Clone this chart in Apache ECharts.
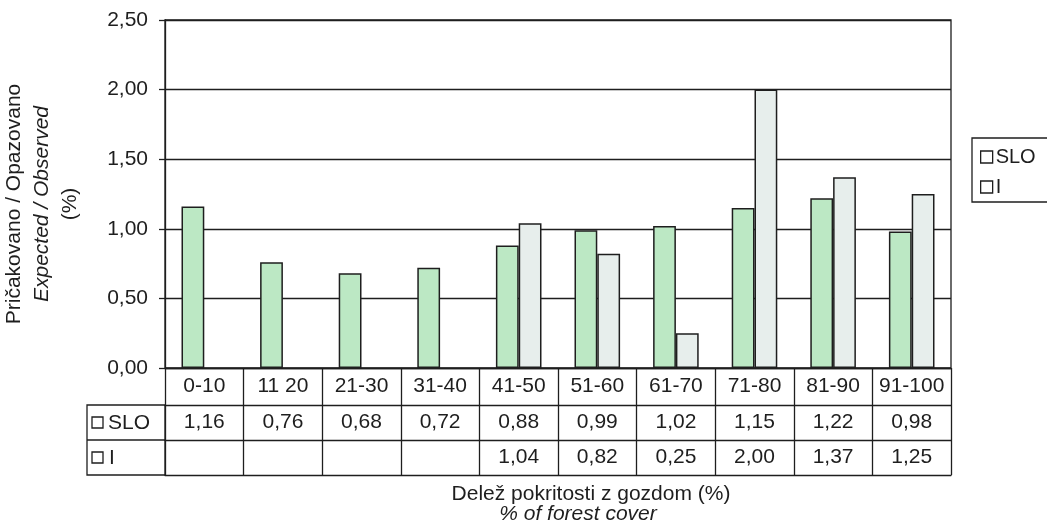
<!DOCTYPE html>
<html><head><meta charset="utf-8">
<script src="https://cdn.jsdelivr.net/npm/echarts@6/dist/echarts.min.js"></script>
<style>html,body{margin:0;padding:0;background:#fff}#c{width:1047px;height:527px}</style>
</head><body><div id="c"></div>
<script>
const categories = ['0-10', '11 20', '21-30', '31-40', '41-50', '51-60', '61-70', '71-80', '81-90', '91-100'];
const seriesNames = ['SLO', 'I'];
const sloValues = [1.16, 0.76, 0.68, 0.72, 0.88, 0.99, 1.02, 1.15, 1.22, 0.98];
const iValues = [null, null, null, null, 1.04, 0.82, 0.25, 2.00, 1.37, 1.25];
const yAxisTitle = ['Pričakovano / Opazovano', 'Expected / Observed', '(%)'];
const xAxisTitle = ['Delež pokritosti z gozdom (%)', '% of forest cover'];

const FONT = '"Liberation Sans", Arial, sans-serif';
const INK = '#1e1e1e';
const fmt = v => (v == null ? '' : v.toFixed(2).replace('.', ','));

function tableAxis(offset, labelFn, tickLen, margin, showLabel, showTick) {
  return {
    type: 'category', data: categories, position: 'bottom', offset: offset,
    boundaryGap: true,
    axisLine: { show: true, lineStyle: { color: INK, width: 1.3 } },
    axisTick: { show: showTick, interval: 0, length: tickLen, alignWithLabel: false, lineStyle: { color: INK, width: 1.3 } },
    axisLabel: { show: showLabel, interval: 0, margin: margin, verticalAlign: 'middle',
      color: INK, fontFamily: FONT, fontSize: 21,
      formatter: labelFn },
    splitLine: { show: false }
  };
}

const chart = echarts.init(document.getElementById('c'), null, { renderer: 'canvas' });
chart.setOption({
  animation: false,
  backgroundColor: '#fff',
  textStyle: { fontFamily: FONT },
  grid: { left: 165, right: 96, top: 20, bottom: 159, show: true, borderColor: INK, borderWidth: 1.3, backgroundColor: 'transparent' },
  legend: {
    orient: 'vertical', left: 972, top: 138,
    data: seriesNames,
    icon: 'rect', itemWidth: 12, itemHeight: 12, itemGap: 10,
    padding: [9, 40, 5, 8],
    borderColor: INK, borderWidth: 1.3,
    itemStyle: { color: '#fff', borderColor: INK, borderWidth: 1.3 },
    textStyle: { color: INK, fontFamily: FONT, fontSize: 20, padding: [0, 0, 0, -2] }
  },
  xAxis: [
    tableAxis(0, (v, i) => categories[i], 37, 18.5, true, true),
    tableAxis(37, (v, i) => fmt(sloValues[i]), 35, 17.5, true, true),
    tableAxis(72, (v, i) => fmt(iValues[i]), 35, 17.5, true, true),
    tableAxis(107, () => '', 0, 0, false, false)
  ],
  yAxis: {
    type: 'value', min: 0, max: 2.5, interval: 0.5,
    axisLine: { show: true, lineStyle: { color: INK, width: 1.3 } },
    axisTick: { show: true, length: 6, lineStyle: { color: INK, width: 1.3 } },
    axisLabel: { margin: 17, color: INK, fontFamily: FONT, fontSize: 21, formatter: v => fmt(v) },
    splitLine: { show: true, lineStyle: { color: INK, width: 1.3 } }
  },
  series: [
    { name: seriesNames[0], type: 'bar', data: sloValues, barWidth: '29%', barGap: '0%',
      itemStyle: { color: '#bce8c4', borderColor: INK, borderWidth: 1.5 } },
    { name: seriesNames[1], type: 'bar', data: iValues, barWidth: '29%', barGap: '0%',
      itemStyle: { color: '#e7eeec', borderColor: INK, borderWidth: 1.5 } }
  ],
  graphic: [
    { type: 'rect', shape: { x: 87, y: 405, width: 78, height: 70 }, style: { fill: 'none', stroke: INK, lineWidth: 1.3 } },
    { type: 'line', shape: { x1: 87, y1: 440, x2: 165, y2: 440 }, style: { stroke: INK, lineWidth: 1.3 } },
    { type: 'rect', shape: { x: 92, y: 417, width: 11, height: 11 }, style: { fill: '#fff', stroke: INK, lineWidth: 1.3 } },
    { type: 'rect', shape: { x: 92, y: 452, width: 11, height: 11 }, style: { fill: '#fff', stroke: INK, lineWidth: 1.3 } },
    { type: 'text', x: 108, y: 423, style: { text: seriesNames[0], font: '21px ' + FONT, fill: INK, textVerticalAlign: 'middle' } },
    { type: 'text', x: 109, y: 458, style: { text: seriesNames[1], font: '21px ' + FONT, fill: INK, textVerticalAlign: 'middle' } },
    { type: 'text', x: 42, y: 204, rotation: Math.PI / 2,
      style: {
        text: '{a|' + yAxisTitle[0] + '}\n{b|' + yAxisTitle[1] + '}\n{a|' + yAxisTitle[2] + '}',
        textAlign: 'center', textVerticalAlign: 'middle', fill: INK,
        rich: {
          a: { fontFamily: FONT, fontSize: 21, lineHeight: 28, fill: INK, color: INK, align: 'center' },
          b: { fontFamily: FONT, fontSize: 21, lineHeight: 28, fontStyle: 'italic', fill: INK, color: INK, align: 'center' }
        }
      } },
    { type: 'text', x: 591, y: 494, style: { text: xAxisTitle[0], font: '21px ' + FONT, fill: INK, textAlign: 'center', textVerticalAlign: 'middle' } },
    { type: 'text', x: 578, y: 514, style: { text: xAxisTitle[1], font: 'italic 21px ' + FONT, fill: INK, textAlign: 'center', textVerticalAlign: 'middle' } }
  ]
});
</script></body></html>
